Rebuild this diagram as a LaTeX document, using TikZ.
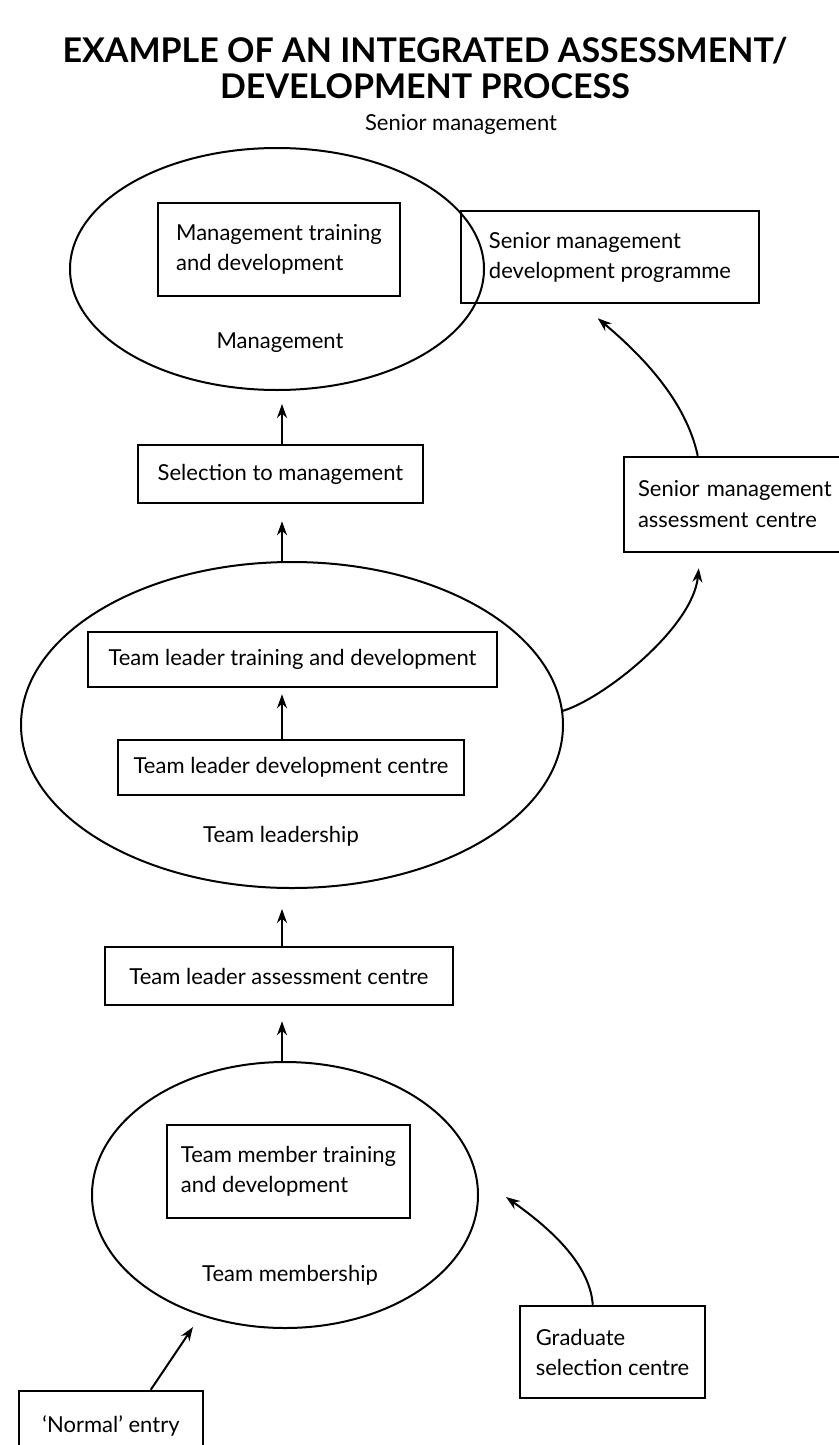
\documentclass[tikz,border=0pt]{standalone}
\usepackage{fontspec}
\setmainfont{Lato}
\usetikzlibrary{shapes.geometric,arrows.meta,calc}
\begin{document}
\begin{tikzpicture}[x=1pt,y=-1pt,
  box/.style={draw,line width=2.5pt,inner sep=0pt,font=\fontsize{22}{30}\selectfont,align=left},
  oval/.style={draw,ellipse,line width=2pt,inner sep=0pt},
  lbl/.style={font=\fontsize{22}{26}\selectfont},
  arr/.style={line width=2pt,-{Stealth[length=14pt,width=10pt]}}]
\useasboundingbox (0,0) rectangle (838,1445);
% ellipses
\node[oval,minimum width=414pt,minimum height=242pt] (mgmt) at (277,269) {};
\node[oval,minimum width=542pt,minimum height=326pt] (tl) at (292,725) {};
\node[oval,minimum width=386pt,minimum height=266pt] (tm) at (285,1195) {};
% title and labels
\node[font=\bfseries\fontsize{34}{36}\selectfont,align=center] (title) at (425,68) {EXAMPLE OF AN INTEGRATED ASSESSMENT/\\DEVELOPMENT PROCESS};
\node[lbl] (tsm) at (461,124) {Senior management};
\node[lbl] (lm) at (280,343) {Management};
\node[lbl] (ltl) at (281,836) {Team leadership};
\node[lbl] (ltm) at (290,1275) {Team membership};
% boxes
\node[box,minimum width=242pt,minimum height=93pt] (mtd) at (279,249.5) {Management training\\and development};
\node[box,minimum width=298pt,minimum height=92pt] (smdp) at (610,257) {Senior management\\development programme};
\node[box,minimum width=285pt,minimum height=58pt] (sel) at (280.5,474) {Selection to management};
\node[box,minimum width=226pt,minimum height=95pt,text width=198pt,inner xsep=14pt,font=\fontsize{22}{31}\selectfont] (smac) at (737,504.5) {Senior management\\assessment centre};
\node[box,minimum width=409pt,minimum height=55pt] (tltd) at (292.5,659.5) {Team leader training and development};
\node[box,minimum width=346pt,minimum height=55pt] (tldc) at (291,767.5) {Team leader development centre};
\node[box,minimum width=348pt,minimum height=58pt] (tlac) at (279,976) {Team leader assessment centre};
\node[box,minimum width=243pt,minimum height=93pt] (tmtd) at (288.5,1171.5) {Team member training\\and development};
\node[box,minimum width=185pt,minimum height=92pt] (grad) at (612.5,1352) {Graduate\\selection centre};
\node[box,minimum width=184pt,minimum height=69pt] (norm) at (111,1425.5) {`Normal' entry};
% arrows
\coordinate (ax) at (282,0);
\draw[arr,shorten >=13pt] (sel.north -| ax) -- (mgmt.south -| ax);
\draw[arr,shorten >=17pt] (tl.north -| ax) -- (sel.south -| ax);
\draw[arr,shorten >=6pt] (tldc.north -| ax) -- (tltd.south -| ax);
\draw[arr,shorten >=20pt] (tlac.north -| ax) -- (tl.south -| ax);
\draw[arr,shorten >=15pt] (tm.north -| ax) -- (tlac.south -| ax);
\coordinate (c1s) at ($(smac.north west)+(75,0)$);
\coordinate (c1e) at ($(smdp.south west)+(138,14)$);
\draw[arr] (c1s) .. controls +(-12,-55) and +(45,38) .. (c1e);
\coordinate (c2e) at ($(smac.south west)+(76,15)$);
\draw[arr] (tl.3) .. controls +(40,-12) and +(-6,60) .. (c2e);
\coordinate (c3s) at ($(grad.north west)+(74,0)$);
\coordinate (c3e) at ($(tm.east)+(27,2)$);
\draw[arr] (c3s) .. controls +(-3,-45) and +(35,25) .. (c3e);
\coordinate (c4s) at ($(norm.north west)+(133,0)$);
\coordinate (c4e) at ($(tm.south west)+(0,0)$);
\draw[arr] (c4s) -- (193,1327);
\end{tikzpicture}
\end{document}
